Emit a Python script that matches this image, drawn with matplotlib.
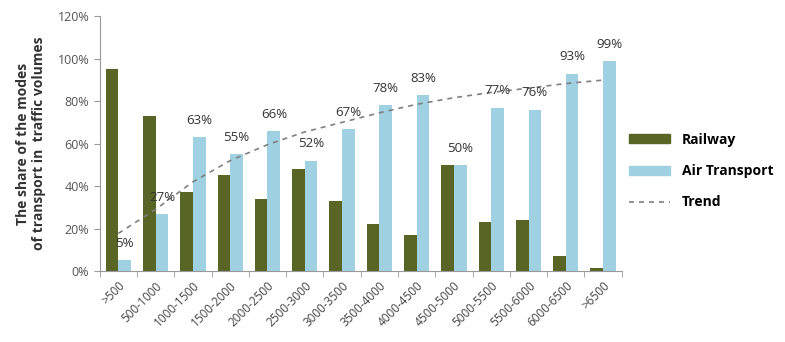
import matplotlib.pyplot as plt
import numpy as np
from matplotlib.lines import Line2D
from matplotlib.patches import Patch

# distance classes (km)
categories = [">500", "500-1000", "1000-1500", "1500-2000", "2000-2500", "2500-3000",
              "3000-3500", "3500-4000", "4000-4500", "4500-5000", "5000-5500",
              "5500-6000", "6000-6500", ">6500"]
railway = [95, 73, 37, 45, 34, 48, 33, 22, 17, 50, 23, 24, 7, 1.5]
air = [5, 27, 63, 55, 66, 52, 67, 78, 83, 50, 77, 76, 93, 99]
air_labels = ["5%", "27%", "63%", "55%", "66%", "52%", "67%", "78%", "83%", "50%",
              "77%", "76%", "93%", "99%"]
trend = [17.7, 29, 42, 52, 59.5, 65.5, 70, 74.5, 78.5, 81.6, 84.1, 86.1, 88.3, 89.9]
yticks = [0, 20, 40, 60, 80, 100, 120]

rail_color = "#586524"
air_color = "#9fd1e2"
grey = "#555555"

plt.rcParams["font.family"] = "Open Sans"

fig = plt.figure(figsize=(7.85, 3.42), dpi=100)
ax = fig.add_axes([0.127, 0.2076, 0.665, 0.745])

x = np.arange(len(categories))
w = 0.34
ax.bar(x - w / 2, railway, w, color=rail_color)
ax.bar(x + w / 2, air, w, color=air_color)
ax.plot(x, trend, linestyle=(0, (3, 3)), color="#808080", linewidth=1.2)

for xi, v, lab in zip(x, air, air_labels):
    ax.annotate(lab, (xi + w / 2, v), xytext=(0, 12), textcoords="offset points",
                ha="center", va="center", fontsize=9.5, color="#333333")

ax.set_xlim(-0.5, len(categories) - 0.5)
ax.set_ylim(0, 120)
ax.set_yticks(yticks)
ax.set_yticklabels([f"{t}%" for t in yticks], fontsize=9, color=grey)
ax.set_xticks(x)
ax.set_xticklabels(categories, rotation=45, ha="right", rotation_mode="anchor",
                   fontsize=8.5, color="#444444")
ax.set_xticks(np.arange(len(categories) + 1) - 0.5, minor=True)
ax.tick_params(axis="x", which="major", length=0, pad=6)
ax.tick_params(axis="x", which="minor", length=4, color="#999999")
ax.tick_params(axis="y", length=4, color="#999999")

for s in ["top", "right"]:
    ax.spines[s].set_visible(False)
for s in ["left", "bottom"]:
    ax.spines[s].set_color("#999999")

ax.set_ylabel("The share of the modes\nof transport in  traffic volumes",
              fontsize=10, fontweight="bold", color="#333333", labelpad=8)

handles = [Patch(color=rail_color), Patch(color=air_color),
           Line2D([0], [0], linestyle=(0, (3, 3)), color="#808080", linewidth=1.2)]
fig.legend(handles, ["Railway", "Air Transport", "Trend"], loc="center left",
           bbox_to_anchor=(0.785, 0.5), frameon=False, handlelength=3.0,
           handleheight=0.6, labelspacing=1.25, handletextpad=0.8,
           prop={"weight": "bold", "size": 10})

fig.savefig("out.png", dpi=100)
